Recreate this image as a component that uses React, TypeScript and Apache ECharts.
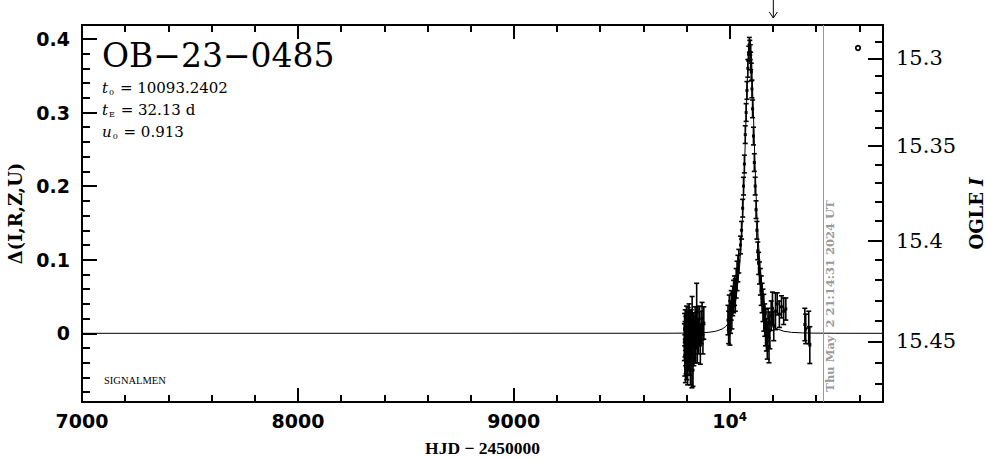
import React, { useEffect, useRef } from 'react';
import * as echarts from 'echarts';

// ---------- axes ----------
const X_MIN = 7000;
const X_MAX = 10710;
const Y_MIN = -0.0933;
const Y_MAX = 0.4189;
const X_MAJOR = [7000, 8000, 9000, 10000];
const X_MINOR = [7200, 7400, 7600, 7800, 8200, 8400, 8600, 8800, 9200, 9400, 9600, 9800, 10200, 10400, 10600];
const Y_MAJOR = [0, 0.1, 0.2, 0.3, 0.4];
const Y_MINOR = [-0.08, -0.06, -0.04, -0.02, 0.02, 0.04, 0.06, 0.08, 0.12, 0.14, 0.16, 0.18, 0.22, 0.24, 0.26, 0.28, 0.32, 0.34, 0.36, 0.38];
const MAG_MAJOR = [15.3, 15.35, 15.4, 15.45];
const MAG_MINOR = [15.29, 15.31, 15.32, 15.33, 15.34, 15.36, 15.37, 15.38, 15.39, 15.41, 15.42, 15.43, 15.44, 15.46, 15.47];

// OGLE I magnitude -> position on the Δ axis
const magToDelta = (m: number) => {
  const t = (m - 15.3) / 0.05;
  return 0.3736 - 0.11495 * t - 0.004416 * t * t;
};

// ---------- model curve ----------
const MODEL_T = [7000, 9700, 9800, 9850, 9900, 9935, 9965, 9981, 9997, 10013, 10029, 10045, 10053, 10061, 10069, 10077, 10085, 10089, 10093, 10097, 10101, 10109, 10117, 10125, 10133, 10141, 10157, 10173, 10189, 10205, 10221, 10251, 10286, 10336, 10386, 10486, 10710];
const MODEL_D = [0, 0.0001, 0.0003, 0.0006, 0.0013, 0.0028, 0.0058, 0.0092, 0.0146, 0.0245, 0.046, 0.088, 0.123, 0.167, 0.231, 0.305, 0.373, 0.393, 0.4, 0.393, 0.373, 0.305, 0.231, 0.167, 0.123, 0.088, 0.046, 0.0245, 0.0146, 0.0092, 0.0058, 0.0028, 0.0013, 0.0006, 0.0003, 0.0001, 0];

// ---------- observations ----------
const OBS_T = [
  9790, 9791, 9792, 9793, 9794, 9795, 9796, 9797, 9798, 9799, 9800, 9801, 9802, 9803, 9804, 9805, 9806, 9807, 9808, 9809, 9810, 9812, 9813, 9814, 9815, 9816, 9818, 9819, 9820, 9822, 9823, 9825, 9826, 9828, 9830, 9832, 9834, 9836, 9838, 9840, 9843, 9845, 9847, 9850, 9853, 9856, 9860, 9864, 9868, 9872, 9876, 9880,
  9992, 9995, 9998, 10001, 10004, 10007, 10010, 10014, 10018, 10022, 10026, 10030, 10034, 10038, 10042,
  10050, 10055, 10060, 10064, 10068, 10072, 10076, 10080, 10084, 10088, 10091, 10093, 10095, 10097, 10100, 10103, 10106, 10110, 10114, 10118, 10122, 10126, 10130,
  10134, 10138, 10142, 10146, 10150, 10154, 10158, 10162, 10166, 10170, 10174, 10178, 10182, 10186, 10192, 10198, 10204, 10212, 10220, 10230, 10240, 10250, 10260,
  10348, 10352, 10366, 10371,
];
const OBS_D = [
  -0.012, 0.005, -0.03, -0.008, 0.012, -0.045, -0.018, 0.002, -0.025, -0.005, 0.015, -0.038, -0.01, 0.008, -0.02, -0.05, 0.0, -0.015, 0.01, -0.028, -0.006, 0.018, -0.033, -0.012, 0.004, -0.022, -0.04, 0.006, -0.016, 0.012, -0.008, -0.042, 0.02, -0.004, -0.05, 0.008, -0.018, 0.002, -0.01, 0.014, -0.02, 0.004, 0.03, -0.012, 0.016, -0.004, 0.012, -0.016, 0.008, 0.02, -0.008, 0.014,
  0.018, 0.008, 0.028, 0.004, 0.022, 0.038, 0.03, 0.044, 0.05, 0.058, 0.052, 0.068, 0.078, 0.088, 0.098,
  0.12, 0.14, 0.17, 0.2, 0.23, 0.27, 0.3, 0.33, 0.36, 0.38, 0.392, 0.388, 0.382, 0.37, 0.355, 0.332, 0.305, 0.268, 0.232, 0.2, 0.168, 0.14, 0.112,
  0.095, 0.082, 0.07, 0.058, 0.048, 0.038, 0.028, 0.018, 0.008, -0.002, -0.01, 0.014, -0.018, 0.004, 0.024, 0.034, 0.01, 0.03, 0.04, 0.026, 0.036, 0.03, 0.033,
  0.012, 0.006, 0.008, -0.016,
];
const OBS_E = [
  0.025, 0.022, 0.028, 0.024, 0.02, 0.022, 0.026, 0.021, 0.03, 0.02, 0.022, 0.025, 0.028, 0.02, 0.024, 0.02, 0.026, 0.022, 0.025, 0.021, 0.03, 0.022, 0.024, 0.02, 0.026, 0.022, 0.03, 0.022, 0.024, 0.02, 0.026, 0.032, 0.03, 0.024, 0.022, 0.02, 0.026, 0.022, 0.03, 0.022, 0.02, 0.024, 0.038, 0.028, 0.02, 0.024, 0.025, 0.026, 0.022, 0.022, 0.02, 0.022,
  0.02, 0.022, 0.024, 0.02, 0.022, 0.02, 0.024, 0.02, 0.022, 0.02, 0.022, 0.02, 0.02, 0.018, 0.016,
  0.012, 0.012, 0.012, 0.012, 0.012, 0.012, 0.012, 0.012, 0.012, 0.01, 0.01, 0.01, 0.01, 0.012, 0.012, 0.012, 0.012, 0.012, 0.012, 0.012, 0.012, 0.012, 0.012,
  0.015, 0.015, 0.018, 0.02, 0.02, 0.022, 0.025, 0.022, 0.025, 0.022, 0.025, 0.02, 0.022, 0.025, 0.02, 0.022, 0.02, 0.025, 0.015, 0.018, 0.015, 0.018, 0.015,
  0.022, 0.02, 0.022, 0.025,
];

// ---------- annotations ----------
const ARROW_T = 10202;
const NOW_T = 10434;
const TITLE = 'OB−23−0485';
const T0 = '10093.2402';
const TE = '32.13 d';
const U0 = '0.913';
const DATE_TEXT = 'Thu May  2 21:14:31 2024 UT';

const SERIF = 'DejaVu Serif';
const SANS = 'DejaVu Sans';

export default function App() {
  const ref = useRef<HTMLDivElement>(null);
  useEffect(() => {
    const chart = echarts.init(ref.current!, null, { renderer: 'svg' });
    const black = '#000';
    const baseX = {
      type: 'value', min: X_MIN, max: X_MAX, splitLine: { show: false },
    };
    const baseY = {
      type: 'value', min: Y_MIN, max: Y_MAX, splitLine: { show: false },
    };
    const lineOn = { show: true, onZero: false, lineStyle: { color: black, width: 2 } };
    const lineOff = { show: false, onZero: false };
    const noLabel = { show: false };
    const majorDelta = MAG_MAJOR.map(magToDelta);
    const minorDelta = MAG_MINOR.map(magToDelta);

    const option: any = {
      animation: false,
      backgroundColor: '#fff',
      grid: { left: 82, right: 103, top: 25, bottom: 57, containLabel: false, outerBoundsMode: 'none' },
      xAxis: [
        {
          ...baseX, position: 'bottom', axisLine: lineOn,
          axisTick: { inside: true, length: 14, customValues: X_MAJOR, lineStyle: { color: black, width: 2 } },
          axisLabel: {
            customValues: X_MAJOR, margin: 9, color: black, fontFamily: SANS, fontWeight: 'bold', fontSize: 19,
            formatter: (v: number) => (v === 10000 ? '10{sup|4}' : String(v)),
            rich: { sup: { fontFamily: SANS, fontWeight: 'bold', fontSize: 12, verticalAlign: 'top', color: black } },
          },
          name: 'HJD − 2450000', nameLocation: 'middle', nameGap: 39,
          nameTextStyle: { fontFamily: 'Liberation Serif', fontWeight: 'bold', fontSize: 17.5, lineHeight: 14, color: black },
        },
        {
          ...baseX, position: 'top', axisLine: lineOn,
          axisTick: { inside: true, length: 14, customValues: X_MAJOR, lineStyle: { color: black, width: 2 } },
          axisLabel: noLabel,
        },
        {
          ...baseX, position: 'bottom', axisLine: lineOff,
          axisTick: { inside: true, length: 7, customValues: X_MINOR, lineStyle: { color: black, width: 2 } },
          axisLabel: noLabel,
        },
        {
          ...baseX, position: 'top', axisLine: lineOff,
          axisTick: { inside: true, length: 7, customValues: X_MINOR, lineStyle: { color: black, width: 2 } },
          axisLabel: noLabel,
        },
      ],
      yAxis: [
        {
          ...baseY, position: 'left', axisLine: lineOn,
          axisTick: { inside: true, length: 15, customValues: Y_MAJOR, lineStyle: { color: black, width: 2 } },
          axisLabel: {
            customValues: Y_MAJOR, margin: 12, color: black, fontFamily: SANS, fontWeight: 'bold', fontSize: 19,
            formatter: (v: number) => (Math.abs(v) < 1e-9 ? '0' : v.toFixed(1)),
          },
          name: 'Δ(I,R,Z,U)', nameLocation: 'middle', nameGap: 58,
          nameTextStyle: { fontFamily: SERIF, fontWeight: 'bold', fontSize: 18, color: black },
        },
        {
          ...baseY, position: 'left', axisLine: lineOff,
          axisTick: { inside: true, length: 8, customValues: Y_MINOR, lineStyle: { color: black, width: 2 } },
          axisLabel: noLabel,
        },
        {
          ...baseY, position: 'right', axisLine: lineOn,
          axisTick: { inside: true, length: 15, customValues: majorDelta, lineStyle: { color: black, width: 2 } },
          axisLabel: {
            customValues: majorDelta, margin: 13, color: black, fontFamily: SERIF, fontSize: 21,
            formatter: (v: number) => {
              let best = 0;
              majorDelta.forEach((d, i) => { if (Math.abs(d - v) < Math.abs(majorDelta[best] - v)) best = i; });
              return String(MAG_MAJOR[best]);
            },
          },
          name: 'OGLE {i|I}', nameLocation: 'middle', nameGap: 83,
          nameTextStyle: {
            fontFamily: SERIF, fontWeight: 'bold', fontSize: 18, color: black,
            rich: { i: { fontFamily: SERIF, fontWeight: 'bold', fontStyle: 'italic', fontSize: 18, color: black } },
          },
        },
        {
          ...baseY, position: 'right', axisLine: lineOff,
          axisTick: { inside: true, length: 8, customValues: minorDelta, lineStyle: { color: black, width: 2 } },
          axisLabel: noLabel,
        },
      ],
      series: [
        {
          type: 'custom',
          xAxisIndex: 0, yAxisIndex: 0,
          data: OBS_T.map((t, i) => [t, OBS_D[i], OBS_E[i]]),
          encode: { x: 0, y: 1 },
          renderItem: (_p: any, api: any) => {
            const t = api.value(0), d = api.value(1), e = api.value(2);
            const top = api.coord([t, d + e]);
            const bot = api.coord([t, d - e]);
            const mid = api.coord([t, d]);
            const cap = 2.5;
            const st = { stroke: black, lineWidth: 1.6 };
            return {
              type: 'group',
              children: [
                { type: 'line', shape: { x1: top[0], y1: top[1], x2: bot[0], y2: bot[1] }, style: st },
                { type: 'line', shape: { x1: top[0] - cap, y1: top[1], x2: top[0] + cap, y2: top[1] }, style: st },
                { type: 'line', shape: { x1: bot[0] - cap, y1: bot[1], x2: bot[0] + cap, y2: bot[1] }, style: st },
                { type: 'rect', shape: { x: mid[0] - 1.5, y: mid[1] - 1.5, width: 3, height: 3 }, style: { fill: black } },
              ],
            };
          },
          z: 2,
        },
        {
          type: 'line',
          xAxisIndex: 0, yAxisIndex: 0,
          data: MODEL_T.map((t, i) => [t, MODEL_D[i]]),
          symbol: 'none',
          lineStyle: { color: black, width: 1 },
          z: 3,
          markLine: {
            silent: true, symbol: ['none', 'none'], label: { show: false },
            lineStyle: { color: '#999', width: 1, type: 'solid' },
            data: [{ xAxis: NOW_T }],
          },
        },
      ],
    };
    chart.setOption(option);

    const ax = chart.convertToPixel({ xAxisIndex: 0 }, ARROW_T) as number;
    const nx = chart.convertToPixel({ xAxisIndex: 0 }, NOW_T) as number;
    const paramStyle = (sub: string, main: string, val: string) => ({
      text: `{v|${main}}{s|${sub}}{n| = ${val}}`,
      rich: {
        v: { fontFamily: SERIF, fontStyle: 'italic', fontSize: 15, fill: black },
        s: { fontFamily: SERIF, fontSize: 8, fill: black, padding: [9, 1, 0, 1] },
        n: { fontFamily: SERIF, fontSize: 15, fill: black },
      },
      textVerticalAlign: 'middle',
    });
    chart.setOption({
      graphic: [
        { type: 'text', x: 102, y: 55, style: { text: TITLE, fontFamily: SERIF, fontSize: 33, fill: black, verticalAlign: 'middle' } },
        { type: 'text', x: 102, y: 88, style: paramStyle('0', 't', T0) },
        { type: 'text', x: 102, y: 110, style: paramStyle('E', 't', TE) },
        { type: 'text', x: 102, y: 132, style: paramStyle('0', 'u', U0) },
        { type: 'text', x: 104, y: 380, style: { text: 'SIGNALMEN', fontFamily: 'Liberation Serif', fontSize: 10.5, fill: black, verticalAlign: 'middle' } },
        {
          type: 'text', x: nx + 7, y: 296, rotation: Math.PI / 2,
          style: { text: DATE_TEXT, fontFamily: SERIF, fontWeight: 'bold', fontSize: 11.5, fill: '#999', align: 'center', verticalAlign: 'middle' },
        },
        { type: 'line', shape: { x1: ax, y1: 0, x2: ax, y2: 18 }, style: { stroke: black, lineWidth: 1 } },
        { type: 'polyline', shape: { points: [[ax - 4, 12], [ax, 18], [ax + 4, 12]] }, style: { stroke: black, lineWidth: 1, fill: 'none' } },
        { type: 'circle', shape: { cx: 858, cy: 48, r: 2.2 }, style: { stroke: black, lineWidth: 1.8, fill: 'none' } },
      ],
    });
    return () => chart.dispose();
  }, []);
  return <div ref={ref} style={{ position: 'fixed', left: 0, top: 0, width: 986, height: 459, background: '#fff' }} />;
}
